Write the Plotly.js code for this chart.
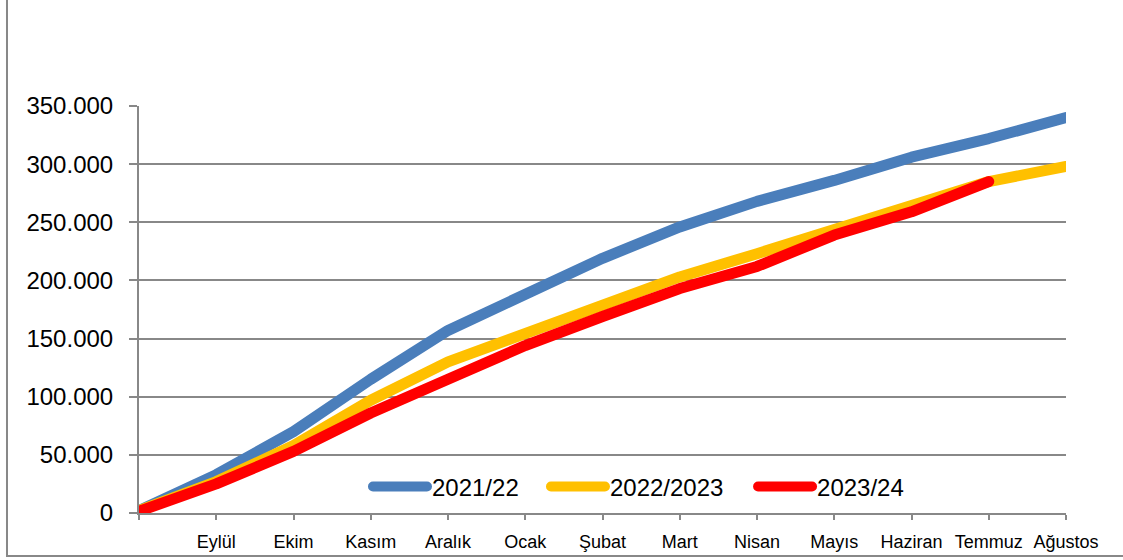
<!DOCTYPE html>
<html>
<head>
<meta charset="utf-8">
<script src="https://cdn.plot.ly/plotly-3.0.1.min.js"></script>
<style>
  html, body { margin: 0; padding: 0; background: #fff; }
  #chart { width: 1123px; height: 560px; }
  .js-line { stroke-linecap: round; stroke-linejoin: round; }
</style>
</head>
<body>
<div id="chart"></div>
<script>
// Categories (x axis)
const months = ["", "Eylül", "Ekim", "Kasım", "Aralık", "Ocak", "Şubat", "Mart", "Nisan", "Mayıs", "Haziran", "Temmuz", "Ağustos"];

// Series (cumulative values)
const series2021_22   = [2000, 33000, 70000, 115000, 157000, 189000, 219000, 246000, 268000, 286000, 306000, 322000, 340000];
const series2022_2023 = [2000, 27000, 58000, 97000, 130000, 154000, 178000, 203000, 223000, 244000, 263000, 285000, 298000];
const series2023_24   = [1500, 25000, 53000, 86000, 115000, 144000, 169000, 193000, 212000, 239000, 259000, 285000];

// Series names
const seriesNames = ["2021/22", "2022/2023", "2023/24"];

// Y tick values
const yTicks = [0, 50000, 100000, 150000, 200000, 250000, 300000, 350000];

const xIdx = months.map((m, i) => i);

const seriesList = [series2021_22, series2022_2023, series2023_24];
const colors = ["#4a7ebb", "#ffc000", "#ff0000"];
const legendIds = ["legend", "legend2", "legend3"];
const legendX = [0.247, 0.439, 0.6624];

const traces = seriesList.map((ys, i) => ({
  type: "scatter",
  mode: "lines",
  name: seriesNames[i],
  legend: legendIds[i],
  x: xIdx.slice(0, ys.length),
  y: ys,
  line: { color: colors[i], width: 11 },
  hoverinfo: "skip"
}));

const gridCol = "#888888";

function legendCfg(x) {
  return {
    orientation: "h",
    x: x, xanchor: "left",
    y: 0.064, yanchor: "middle",
    bgcolor: "rgba(0,0,0,0)",
    font: { size: 24, color: "#000" },
    itemwidth: 54
  };
}

const layout = {
  width: 1123,
  height: 560,
  margin: { l: 139, r: 57, t: 106, b: 47 },
  paper_bgcolor: "#ffffff",
  plot_bgcolor: "#ffffff",
  separators: ",.",
  font: { family: "Liberation Sans, Arial, sans-serif", color: "#000000" },
  showlegend: true,
  legend: legendCfg(legendX[0]),
  legend2: legendCfg(legendX[1]),
  legend3: legendCfg(legendX[2]),
  xaxis: {
    range: [0, 12],
    tickmode: "array",
    tickvals: xIdx,
    ticktext: months,
    showgrid: false,
    zeroline: false,
    showline: true,
    linecolor: gridCol,
    linewidth: 2,
    ticks: "outside",
    ticklen: 5,
    tickwidth: 2,
    tickcolor: gridCol,
    tickfont: { size: 18, color: "#000" },
    ticklabelstandoff: 6,
    fixedrange: true
  },
  yaxis: {
    range: [0, 350000],
    tickmode: "array",
    tickvals: yTicks,
    tickformat: ",d",
    showgrid: true,
    gridcolor: gridCol,
    gridwidth: 2,
    zeroline: false,
    showline: true,
    linecolor: gridCol,
    linewidth: 2,
    ticks: "outside",
    ticklen: 8,
    tickwidth: 2,
    tickcolor: gridCol,
    tickfont: { size: 24, color: "#000" },
    ticklabelstandoff: 11,
    fixedrange: true
  },
  shapes: [
    {
      type: "rect", xref: "paper", yref: "paper", layer: "below",
      x0: -0.1424, x1: 1.2, y0: -0.1057, y1: 1.4,
      line: { color: gridCol, width: 2 }, fillcolor: "rgba(0,0,0,0)"
    }
  ]
};

Plotly.newPlot("chart", traces, layout, { staticPlot: true, displayModeBar: false });
</script>
</body>
</html>
